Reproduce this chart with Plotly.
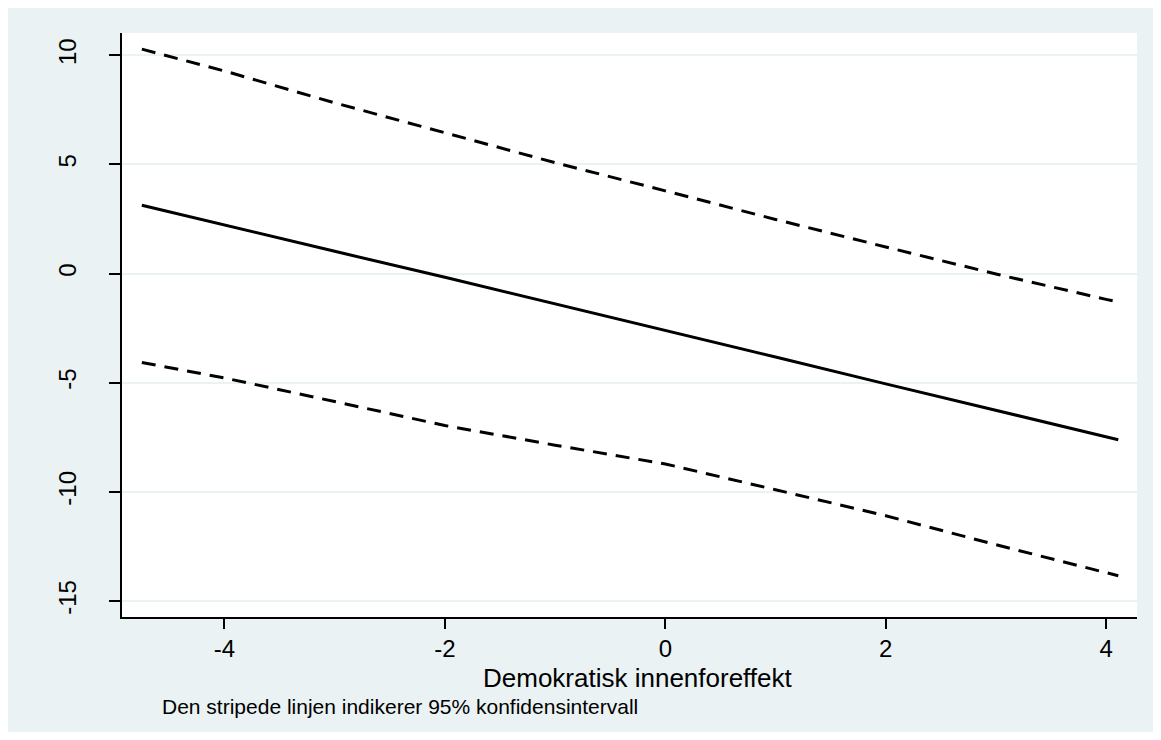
import plotly.graph_objects as go

x_vals = [-4.75, -4.0, -3.0, -2.0, -1.0, 0.0, 1.0, 2.0, 3.0, 4.0, 4.11]
effect = [3.13, 2.22, 1.02, -0.17, -1.38, -2.60, -3.82, -5.05, -6.26, -7.47, -7.61]
upper = [10.28, 9.28, 7.82, 6.44, 5.08, 3.79, 2.48, 1.22, -0.02, -1.18, -1.30]
lower = [-4.07, -4.78, -5.86, -6.96, -7.86, -8.72, -9.90, -11.09, -12.42, -13.70, -13.84]

y_ticks = [10, 5, 0, -5, -10, -15]
x_ticks = [-4, -2, 0, 2, 4]
x_title = "Demokratisk innenforeffekt"
note = "Den stripede linjen indikerer 95% konfidensintervall"

bg = "#EAF2F3"
dash = "14px,9px"

fig = go.Figure()
fig.add_trace(go.Scatter(x=x_vals, y=upper, mode="lines",
                         line=dict(color="black", width=3, dash=dash), showlegend=False))
fig.add_trace(go.Scatter(x=x_vals, y=effect, mode="lines",
                         line=dict(color="black", width=3), showlegend=False))
fig.add_trace(go.Scatter(x=x_vals, y=lower, mode="lines",
                         line=dict(color="black", width=3, dash=dash), showlegend=False))

fig.update_layout(
    width=1145, height=724,
    margin=dict(l=114, r=16, t=25, b=115),
    paper_bgcolor=bg, plot_bgcolor="white",
    font=dict(family="Liberation Sans, Arial, sans-serif", color="black"),
    xaxis=dict(range=[-4.93, 4.28], tickvals=x_ticks, ticktext=[str(v) for v in x_ticks],
               showgrid=False, zeroline=False, showline=True, linecolor="black", linewidth=1.5,
               ticks="outside", ticklen=10, tickwidth=1.5, tickcolor="black",
               tickfont=dict(size=24), ticklabelstandoff=-1),
    yaxis=dict(range=[-15.73, 11.02], tickvals=y_ticks, ticktext=[str(v) for v in y_ticks],
               showgrid=True, gridcolor=bg, gridwidth=2, zeroline=False,
               showline=True, linecolor="black", linewidth=1.5,
               ticks="outside", ticklen=11, tickwidth=1.5, tickcolor="black",
               tickangle=-90, tickfont=dict(size=24), ticklabelstandoff=24),
    annotations=[
        dict(text=x_title, xref="paper", yref="paper", x=0.508, y=-0.104,
             xanchor="center", yanchor="middle", showarrow=False, font=dict(size=26)),
        dict(text=note, xref="paper", yref="paper", x=0.0374, y=-0.1525,
             xanchor="left", yanchor="middle", showarrow=False, font=dict(size=21)),
    ],
)

fig.write_html("out.html")
